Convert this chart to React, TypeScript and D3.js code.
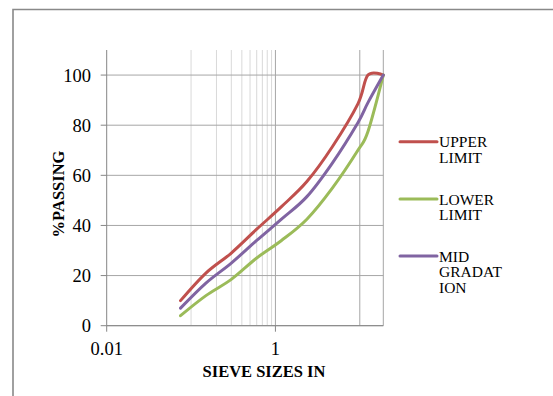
import * as d3 from "d3"
import React from "react"

// sieve sizes (mm) and % passing
const sizes = [0.075, 0.15, 0.3, 0.6, 1.18, 2.36, 4.75, 9.5, 12.5, 19]
const upper = [10, 21, 29, 38.5, 47.5, 57.5, 71.5, 88.5, 100, 100]
const lower = [4, 12, 18.5, 27, 34, 42.5, 55, 70, 77.5, 100]
const mid = [7, 17, 25, 34, 42.5, 51.5, 65, 81, 89, 100]

const yTicks = [0, 20, 40, 60, 80, 100]
const xLabels = [0.01, 1]
const xMajorLines = [1, 10]
const xMinorLines = [0.1, 0.2, 0.3, 0.4, 0.5, 0.6, 0.7, 0.8, 0.9]

const series = [
  { label: ["UPPER", "LIMIT"], values: upper, color: "#c0504d" },
  { label: ["LOWER", "LIMIT"], values: lower, color: "#9bbb59" },
  { label: ["MID", "GRADAT", "ION"], values: mid, color: "#8064a2" },
]

const W = 553
const H = 396
const plot = { left: 106.7, right: 383.3, top: 50, bottom: 325.7 }

export default () => {
  const x = d3.scaleLog().domain([0.01, 19]).range([plot.left, plot.right])
  const y = d3.scaleLinear().domain([0, 110]).range([plot.bottom, plot.top])
  const line = d3
    .line<number>()
    .x((d, i) => x(sizes[i]))
    .y((d) => y(d))
    .curve(d3.curveCardinal.tension(0))

  const font = "'Liberation Serif', 'Times New Roman', serif"
  const legendTop = [141.7, 199, 256]

  return (
    <svg
      width={W}
      height={H}
      style={{ position: "absolute", left: 0, top: 0, background: "#fff" }}
      fontFamily={font}
    >
      {/* outer chart frame, cut by the picture edge */}
      <path d={`M13,${H + 5} V9.5 H${W + 5}`} fill="none" stroke="#898989" strokeWidth={1.6} />

      {xMinorLines.map((v) => (
        <line key={"mn" + v} x1={x(v)} x2={x(v)} y1={plot.top} y2={plot.bottom} stroke="#d9d9d9" strokeWidth={1} />
      ))}
      {xMajorLines.map((v) => (
        <line key={"mj" + v} x1={x(v)} x2={x(v)} y1={plot.top} y2={plot.bottom} stroke="#a6a6a6" strokeWidth={1} />
      ))}
      <line x1={plot.right} x2={plot.right} y1={plot.top} y2={plot.bottom} stroke="#a6a6a6" strokeWidth={1} />
      {yTicks.map((t) => (
        <line key={"g" + t} x1={plot.left} x2={plot.right} y1={y(t)} y2={y(t)} stroke="#a6a6a6" strokeWidth={1} />
      ))}

      {/* axes */}
      <line x1={plot.left} x2={plot.left} y1={plot.top} y2={plot.bottom} stroke="#868686" strokeWidth={1} />
      <line x1={plot.left} x2={plot.right} y1={plot.bottom} y2={plot.bottom} stroke="#868686" strokeWidth={1} />
      {yTicks.map((t) => (
        <g key={"yt" + t}>
          <line x1={plot.left - 6} x2={plot.left} y1={y(t)} y2={y(t)} stroke="#868686" />
          <text x={91} y={y(t) + 6.5} textAnchor="end" fontSize={18.5} fill="#000">
            {t}
          </text>
        </g>
      ))}
      {xLabels.map((v) => (
        <g key={"xt" + v}>
          <line x1={x(v)} x2={x(v)} y1={plot.bottom} y2={plot.bottom + 6} stroke="#868686" />
          <text x={x(v)} y={355} textAnchor="middle" fontSize={18.5} fill="#000">
            {v}
          </text>
        </g>
      ))}

      <text x={264} y={376.5} textAnchor="middle" fontSize={16.5} fontWeight="bold" fill="#000">
        SIEVE SIZES IN
      </text>
      <text
        transform={`translate(64,194) rotate(-90)`}
        textAnchor="middle"
        fontSize={16.5}
        fontWeight="bold"
        fill="#000"
      >
        %PASSING
      </text>

      {series.map((s) => (
        <path
          key={s.label.join("")}
          d={line(s.values) || ""}
          fill="none"
          stroke={s.color}
          strokeWidth={3}
          strokeLinecap="round"
          strokeLinejoin="round"
        />
      ))}

      {series.map((s, i) => (
        <g key={"lg" + i}>
          <line x1={400} x2={437} y1={legendTop[i]} y2={legendTop[i]} stroke={s.color} strokeWidth={3} strokeLinecap="round" />
          {s.label.map((l, j) => (
            <text key={l} x={439} y={legendTop[i] + 5.5 + j * 15.8} fontSize={15.5} fill="#000">
              {l}
            </text>
          ))}
        </g>
      ))}
    </svg>
  )
}
